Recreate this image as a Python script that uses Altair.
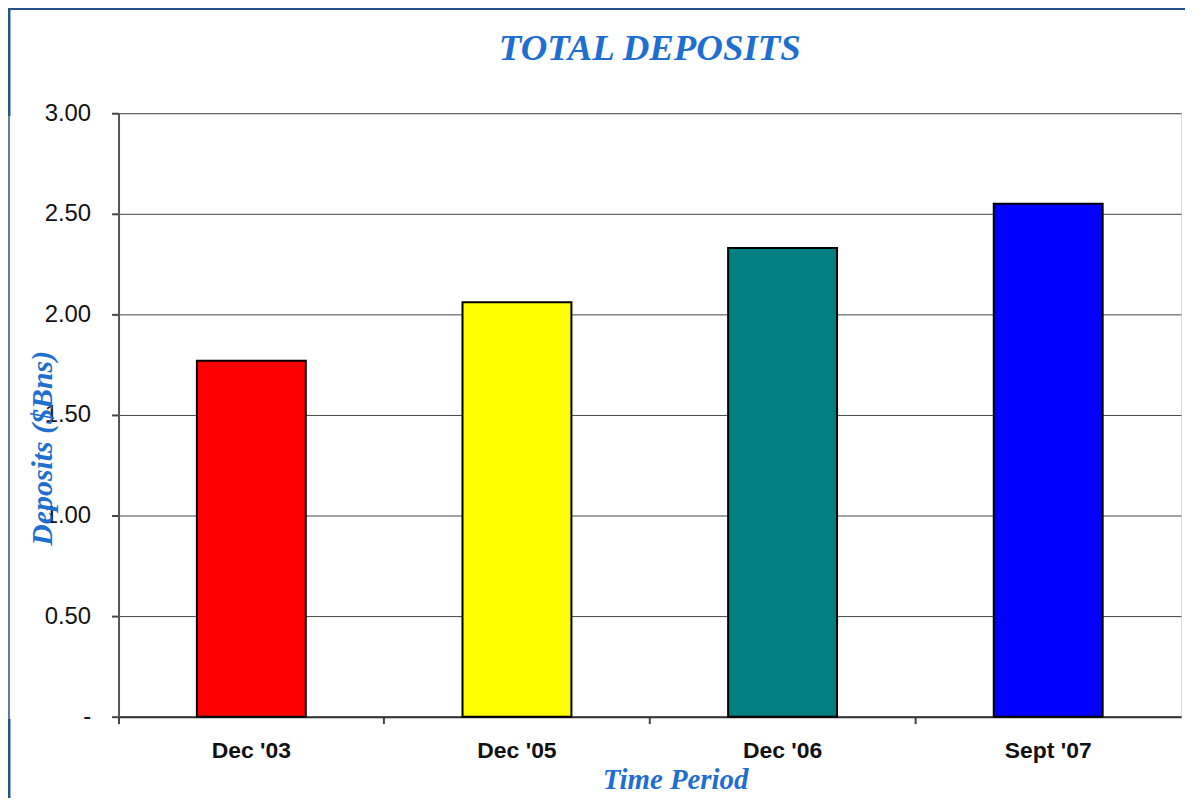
import altair as alt
import pandas as pd

categories = ["Dec '03", "Dec '05", "Dec '06", "Sept '07"]
values = [1.77, 2.06, 2.33, 2.55]
colors = ["#FF0000", "#FFFF00", "#008080", "#0000FF"]
y_ticks = [0, 0.5, 1.0, 1.5, 2.0, 2.5, 3.0]

df = pd.DataFrame({"period": categories, "deposits": values})

TITLE_BLUE = "#1f6fd1"
FRAME_BLUE = "#26528e"

bars = alt.Chart(df).mark_bar(
    width=alt.RelativeBandSize(0.41), stroke="black", strokeWidth=2
).encode(
    x=alt.X("period:N", sort=categories,
            scale=alt.Scale(paddingInner=0, paddingOuter=0),
            axis=alt.Axis(title="Time Period", labelAngle=0, bandPosition=0,
                          labelFont="Liberation Sans", labelFontSize=23, labelFontWeight="bold",
                          labelColor="#111", labelPadding=16,
                          tickSize=7, tickColor="#444", tickWidth=2,
                          domainColor="#333", domainWidth=2,
                          titleFont="Liberation Serif", titleFontSize=29, titleFontStyle="italic",
                          titleFontWeight="bold", titleColor=TITLE_BLUE,
                          titleX=559, titleY=72, titleBaseline="alphabetic", titleAlign="center",
                          grid=False)),
    y=alt.Y("deposits:Q",
            scale=alt.Scale(domain=[0, 3], nice=False),
            axis=alt.Axis(title="Deposits ($Bns)", values=y_ticks,
                          labelExpr="datum.value == 0 ? '-' : format(datum.value, '.2f')",
                          labelFont="Liberation Sans", labelFontSize=24, labelColor="#111",
                          labelPadding=21, tickSize=7, tickColor="#444", tickWidth=2,
                          domainColor="#555", domainWidth=2,
                          gridColor="#444", gridWidth=1,
                          titleFont="Liberation Serif", titleFontSize=30, titleFontStyle="italic",
                          titleFontWeight="bold", titleColor=TITLE_BLUE,
                          titleX=-67, titleY=336, titleBaseline="alphabetic", titleAngle=270,
                          titleAlign="center")),
    color=alt.Color("period:N", sort=categories,
                    scale=alt.Scale(domain=categories, range=colors), legend=None),
)

one = alt.Data(values=[{"a": 1}])
top_line = alt.Chart(one).mark_rule(color=FRAME_BLUE, strokeWidth=2.5).encode(
    x=alt.value(-111), x2=alt.value(1072), y=alt.value(-105))
left_thick1 = alt.Chart(one).mark_rule(color=FRAME_BLUE, strokeWidth=3).encode(
    x=alt.value(-110), y=alt.value(-105), y2=alt.value(3))
left_thin = alt.Chart(one).mark_rule(color=FRAME_BLUE, strokeWidth=1.5).encode(
    x=alt.value(-110), y=alt.value(3), y2=alt.value(608))
left_thick2 = alt.Chart(one).mark_rule(color=FRAME_BLUE, strokeWidth=3).encode(
    x=alt.value(-110), y=alt.value(608), y2=alt.value(694))

chart = alt.layer(bars, top_line, left_thick1, left_thin, left_thick2).properties(
    width=1067, height=606,
    autosize=alt.AutoSizeParams(type="none"),
    padding={"left": 111, "top": 104, "right": 4, "bottom": 80},
    title=alt.TitleParams("TOTAL DEPOSITS", font="Liberation Serif", fontSize=37,
                          fontStyle="italic", fontWeight="bold", color=TITLE_BLUE,
                          anchor="middle", frame="group", offset=-90, baseline="alphabetic"),
).configure_view(stroke="#999", strokeWidth=1.5).configure(background="white")

chart.save("out.html", embed_options={"renderer": "svg", "actions": False})
